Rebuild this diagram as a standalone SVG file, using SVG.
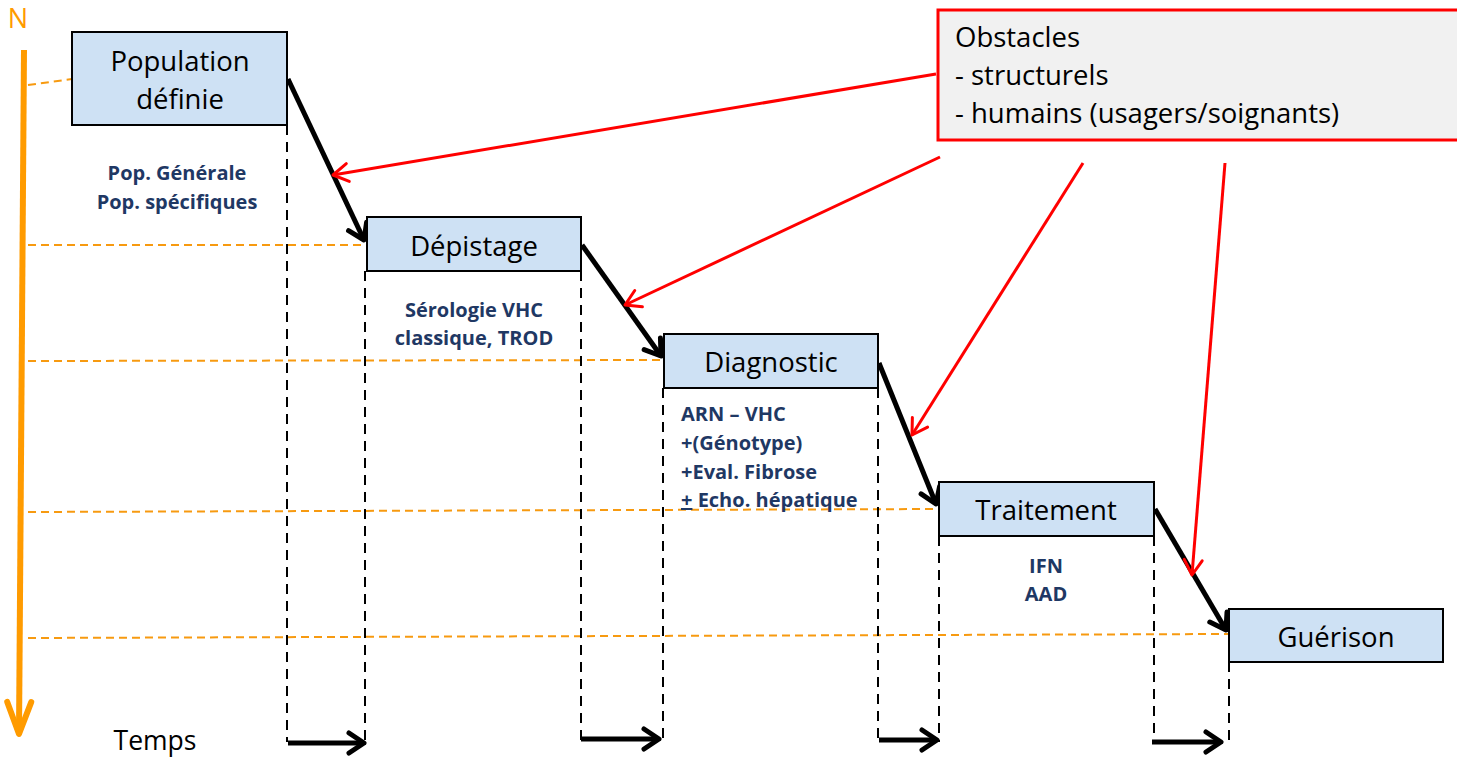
<svg xmlns="http://www.w3.org/2000/svg" width="1457" height="758" viewBox="0 0 1457 758">
<style>
.box{fill:#cee1f4;stroke:#000;stroke-width:2}
.t{font-family:"Open Sans","Liberation Sans",sans-serif;font-size:27.5px;fill:#000;text-anchor:middle}
.s{text-anchor:start}
.b{font-family:"Open Sans","Liberation Sans",sans-serif;font-weight:bold;font-size:20px;fill:#1f3864}
.c{text-anchor:middle}
.n{font-family:"Open Sans","Liberation Sans",sans-serif;font-size:27px;fill:#ff9b00;text-anchor:middle}
.od{stroke:#f79a10;stroke-width:2;stroke-dasharray:8,5;fill:none}
.bd{stroke:#000;stroke-width:2;stroke-dasharray:10,7;fill:none}
.ba{stroke:#000;stroke-width:5;fill:none;marker-end:url(#mb)}
.ra{stroke:#ff0000;stroke-width:3;fill:none;marker-end:url(#mr)}
</style>
<defs>
<marker id="mb" markerUnits="userSpaceOnUse" viewBox="-22 -14 26 28" markerWidth="26" markerHeight="28" refX="0" refY="0" orient="auto">
<path d="M-15,-10 L0,0 L-15,10" fill="none" stroke="#000" stroke-width="5" stroke-linecap="round" stroke-linejoin="round"/>
</marker>
<marker id="mr" markerUnits="userSpaceOnUse" viewBox="-22 -14 26 28" markerWidth="26" markerHeight="28" refX="0" refY="0" orient="auto">
<path d="M-15,-9 L0,0 L-15,9" fill="none" stroke="#ff0000" stroke-width="3" stroke-linecap="round" stroke-linejoin="round"/>
</marker>
<marker id="mo" markerUnits="userSpaceOnUse" viewBox="-40 -18 46 36" markerWidth="46" markerHeight="36" refX="0" refY="0" orient="auto">
<path d="M-32,-12 L0,0 L-32,12" fill="none" stroke="#ff9b00" stroke-width="6" stroke-linecap="round" stroke-linejoin="round"/>
</marker>
</defs>
<rect width="1457" height="758" fill="#fff"/>

<g id="axis">
<text class="n" x="18" y="28">N</text>
<line x1="24" y1="50" x2="19" y2="734" stroke="#ff9b00" stroke-width="6" marker-end="url(#mo)"/>
<text x="155" y="750" class="t" style="font-size:26.5px">Temps</text>
</g>

<g id="guides">
<path class="od" d="M28,85 L72,79"/>
<path class="od" d="M28,245 L367,245"/>
<path class="od" d="M28,361 L664,360"/>
<path class="od" d="M28,512 L939,509"/>
<path class="od" d="M28,638 L1229,634"/>
<path class="bd" d="M287,125 V742"/>
<path class="bd" d="M365,271 V742"/>
<path class="bd" d="M581,271 V740"/>
<path class="bd" d="M663,388 V742"/>
<path class="bd" d="M878,388 V740"/>
<path class="bd" d="M939,536 V742"/>
<path class="bd" d="M1154,536 V742"/>
<path class="bd" d="M1229,662 V742"/>
</g>

<g id="connectors">
<path class="ba" d="M288,79 L364,240"/>
<path class="ba" d="M582,245 L661,356"/>
<path class="ba" d="M879,363 L936,504"/>
<path class="ba" d="M1155,509 L1226,630"/>
<path class="ba" d="M288,743 L364,743"/>
<path class="ba" d="M581,739 L659,739"/>
<path class="ba" d="M879,740 L937,740"/>
<path class="ba" d="M1152,742 L1221,742"/>
<path class="ra" d="M936,74 L333,175"/>
<path class="ra" d="M940,157 L625,305"/>
<path class="ra" d="M1083,163 L912,435"/>
<path class="ra" d="M1225,163 L1192,575"/>
</g>

<g id="n-population">
<rect class="box" x="72" y="32" width="215" height="93"/>
<text class="t" x="180" y="71">Population</text>
<text class="t" x="180" y="109">définie</text>
</g>
<g id="l-population">
<text class="b c" x="177" y="180">Pop. Générale</text>
<text class="b c" x="177" y="209">Pop. spécifiques</text>
</g>

<g id="n-depistage">
<rect class="box" x="367" y="217" width="214" height="54"/>
<text class="t" x="474" y="256">Dépistage</text>
</g>
<g id="l-depistage">
<text class="b c" x="474" y="317">Sérologie VHC</text>
<text class="b c" x="474" y="345">classique, TROD</text>
</g>

<g id="n-diagnostic">
<rect class="box" x="664" y="334" width="214" height="54"/>
<text class="t" x="771" y="372">Diagnostic</text>
</g>
<g id="l-diagnostic">
<text class="b" x="681" y="421">ARN – VHC</text>
<text class="b" x="681" y="450">+(Génotype)</text>
<text class="b" x="681" y="479">+Eval. Fibrose</text>
<text class="b" x="681" y="507"><tspan text-decoration="underline">+</tspan> Echo. hépatique</text>
</g>

<g id="n-traitement">
<rect class="box" x="939" y="482" width="215" height="54"/>
<text class="t" x="1046" y="520">Traitement</text>
</g>
<g id="l-traitement">
<text class="b c" x="1046" y="573">IFN</text>
<text class="b c" x="1046" y="601">AAD</text>
</g>

<g id="n-guerison">
<rect class="box" x="1229" y="609" width="214" height="53"/>
<text class="t" x="1336" y="647">Guérison</text>
</g>

<g id="n-obstacles">
<rect x="938" y="10" width="530" height="130" fill="#f1f1f1" stroke="#ff0000" stroke-width="3"/>
<text class="t s" x="955" y="47">Obstacles</text>
<text class="t s" x="955" y="85">- structurels</text>
<text class="t s" x="955" y="123">- humains (usagers/soignants)</text>
</g>
</svg>
